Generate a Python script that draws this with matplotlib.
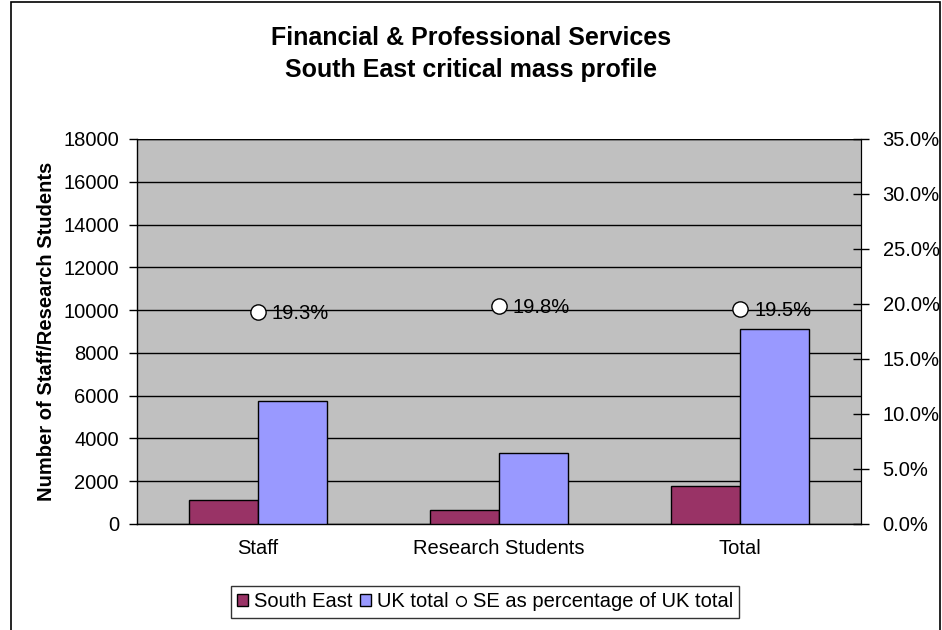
import numpy as np
import matplotlib.pyplot as plt
from matplotlib.patches import Patch, Rectangle
from matplotlib.lines import Line2D
from matplotlib.ticker import FuncFormatter

plt.rcParams['font.family'] = ['Liberation Sans', 'DejaVu Sans']

# ---------- Data ----------
categories = ['Staff', 'Research Students', 'Total']
south_east = [1112, 661, 1773]
uk_total = [5760, 3340, 9100]
se_pct = [19.3, 19.8, 19.5]

SE_COLOR = '#993366'
UK_COLOR = '#9999FF'
FS = 14.5

# ---------- Figure ----------
fig = plt.figure(figsize=(9.42, 6.3), dpi=100)
ax = fig.add_axes([0.1454, 0.1683, 0.7686, 0.6111])
ax.set_facecolor('#C0C0C0')

x = np.arange(len(categories))
w = 1 / 3.5
ax.bar(x - w / 2, south_east, width=w, color=SE_COLOR, edgecolor='black', linewidth=1, zorder=3)
ax.bar(x + w / 2, uk_total, width=w, color=UK_COLOR, edgecolor='black', linewidth=1, zorder=3)

ax.set_xlim(-0.5, len(categories) - 0.5)
ax.set_ylim(0, 18000)
ax.set_yticks(np.arange(0, 18001, 2000))
ax.yaxis.grid(True, color='black', linewidth=1, zorder=0)
ax.set_axisbelow(True)
ax.set_xticks(x)
ax.set_xticklabels(categories, fontsize=FS)
ax.tick_params(axis='x', length=0, pad=11)
ax.tick_params(axis='y', labelsize=FS, direction='out', length=6, width=1, pad=7)
ax.set_ylabel('Number of Staff/Research Students', fontsize=FS, fontweight='bold', labelpad=5)
ax.spines['top'].set_visible(False)
ax.spines['left'].set_linewidth(1)
ax.spines['bottom'].set_linewidth(1)

# percentage on secondary axis
ax2 = ax.twinx()
ax2.set_ylim(0, 35)
ax2.set_yticks(np.arange(0, 35.1, 5))
ax2.yaxis.set_major_formatter(FuncFormatter(lambda v, p: f'{v:.1f}%'))
ax2.tick_params(axis='y', labelsize=FS, direction='inout', length=11, width=1, pad=10)
ax2.spines['top'].set_visible(False)
ax2.spines['left'].set_visible(False)
ax2.spines['bottom'].set_visible(False)
ax2.plot(x, se_pct, linestyle='none', marker='o', markersize=11,
         markerfacecolor='white', markeredgecolor='black', markeredgewidth=1, zorder=5)
for xi, p in zip(x, se_pct):
    ax2.annotate(f'{p:.1f}%', (xi, p), xytext=(10, -1), textcoords='offset points',
                 ha='left', va='center', fontsize=FS)

# top border line of plot area
ax.axhline(18000, color='black', linewidth=1, zorder=4)

fig.suptitle('Financial & Professional Services\nSouth East critical mass profile',
             fontsize=18, fontweight='bold', y=0.958, linespacing=1.38)

handles = [
    Patch(facecolor=SE_COLOR, edgecolor='black', label='South East'),
    Patch(facecolor=UK_COLOR, edgecolor='black', label='UK total'),
    Line2D([], [], linestyle='none', marker='o', markersize=7, markerfacecolor='white',
           markeredgecolor='black', label='SE as percentage of UK total'),
]
leg = fig.legend(handles=handles, loc='center', bbox_to_anchor=(0.515, 0.0445), ncol=3,
                 fontsize=FS, frameon=True, fancybox=False, edgecolor='black',
                 handlelength=0.55, handleheight=0.55, handletextpad=0.3, columnspacing=0.35,
                 borderpad=0.3, borderaxespad=0)
leg.get_frame().set_linewidth(1)

# outer chart border
fig.patches.append(Rectangle((11 / 942, -0.01), 929 / 942, 1.01 - 1.5 / 630,
                             transform=fig.transFigure, fill=False,
                             edgecolor='black', linewidth=1.2))

fig.savefig('out.png', dpi=100)
